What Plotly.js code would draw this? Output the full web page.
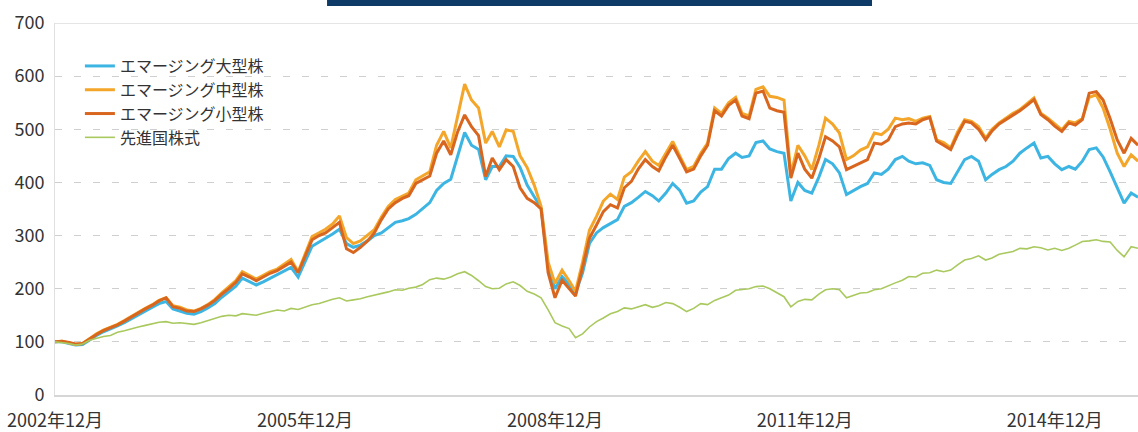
<!DOCTYPE html>
<html><head><meta charset="utf-8">
<script src="https://cdn.plot.ly/plotly-3.0.1.min.js"></script>
<style>html,body{margin:0;padding:0;background:#fff;}#chart{width:1138px;height:432px;}</style>
</head><body><div id="chart"></div>
<script>
// monthly calendar from 2002-12
const months = [];
for (let i = 0; i < 157; i++) {
  const t = 2002 * 12 + 11 + i;
  months.push(Math.floor(t / 12) + '-' + String(t % 12 + 1).padStart(2, '0') + '-01');
}
const seriesNames = ['エマージング大型株', 'エマージング中型株', 'エマージング小型株', '先進国株式'];
const tickDates = ['2002-12-01', '2005-12-01', '2008-12-01', '2011-12-01', '2014-12-01'];
const tickLabels = ['2002年12月', '2005年12月', '2008年12月', '2011年12月', '2014年12月'];
const yTicks = [0, 100, 200, 300, 400, 500, 600, 700];

const emLarge = [100,100,97,94,95,104,112,119,124,130,
136,143,150,158,165,172,176,162,158,154,
152,157,164,172,184,194,205,220,213,207,
213,220,226,234,240,222,252,280,288,295,
303,312,285,278,282,290,300,305,315,325,
328,332,340,350,362,385,398,406,450,494,
470,462,405,430,430,450,449,428,395,372,
352,240,200,223,208,192,230,285,305,315,
322,330,355,362,372,383,375,365,380,398,
385,361,365,382,392,425,425,445,455,447,
450,475,478,463,458,455,365,400,385,380,
410,443,435,418,377,385,392,398,418,415,
425,443,449,440,435,437,432,405,400,398,
420,443,449,440,405,415,424,430,440,455,
465,474,446,449,435,424,430,425,440,462,
465,448,420,390,361,380,372];

const emMid = [100,101,98,95,97,106,115,122,127,133,
140,148,155,163,170,178,183,168,165,160,
158,163,170,180,192,203,215,232,225,218,
225,232,237,246,255,232,265,298,305,312,
322,337,296,285,290,300,311,335,355,368,
375,380,405,412,420,470,496,465,525,585,
555,540,474,496,467,499,496,450,428,395,
355,250,210,235,215,195,250,310,336,365,
378,368,410,420,440,458,440,432,455,477,
450,424,430,455,474,540,530,550,560,530,
525,575,580,562,560,555,415,470,450,424,
470,521,510,493,443,450,461,467,493,490,
500,521,518,520,515,521,524,480,475,465,
495,518,515,505,483,500,512,521,530,537,
548,559,530,521,510,499,515,512,520,560,
565,540,500,455,430,452,440];

const emSmall = [100,101,99,96,97,106,114,121,126,132,
139,147,154,162,169,177,183,166,163,158,
157,162,169,178,190,200,212,228,222,215,
222,229,234,242,250,230,262,292,300,305,
315,325,275,268,278,290,305,330,350,362,
370,375,398,405,412,455,478,452,495,527,
505,488,411,446,424,443,430,390,370,362,
350,230,183,216,200,186,240,295,320,345,
358,352,390,402,425,443,430,422,448,470,
445,420,425,450,470,535,525,545,555,525,
520,568,572,540,535,532,408,455,425,408,
445,486,478,467,424,430,437,443,474,472,
480,505,510,512,510,518,522,478,470,462,
490,515,512,500,480,497,510,518,527,535,
545,556,528,518,506,496,512,508,518,568,
571,555,520,480,455,483,470];

const developed = [100,99,97,94,96,103,107,110,112,118,
121,125,128,131,134,137,138,135,136,134,
133,136,140,145,148,150,149,153,151,150,
154,157,160,158,163,161,166,170,172,176,
180,183,177,179,181,185,188,190,194,198,
197,201,203,208,217,220,218,222,228,232,
225,215,204,200,201,209,213,206,195,190,
183,160,136,130,125,108,115,128,138,145,
153,157,164,162,166,170,165,168,174,172,
165,157,163,172,170,178,183,188,197,198,
200,204,205,200,192,185,166,176,180,179,
190,198,200,198,183,188,192,193,198,200,
206,211,216,223,222,229,230,235,232,235,
245,254,257,262,254,258,265,267,270,276,
275,279,277,273,276,272,276,282,289,290,
292,289,288,272,260,279,276];

const colors = ['#3db5e3', '#f3a62a', '#d9661e', '#a9c95e'];
const widths = [3, 3, 3, 1.6];
const values = [emLarge, emMid, emSmall, developed];

const traces = values.map((v, i) => ({
  x: months, y: v, type: 'scatter', mode: 'lines', name: seriesNames[i],
  line: {color: colors[i], width: widths[i]}, hoverinfo: 'skip'
}));

const font = "'Noto Sans CJK JP', 'Noto Sans', sans-serif";
const layout = {
  width: 1138, height: 432,
  margin: {l: 55, r: 0, t: 23, b: 37},
  paper_bgcolor: '#fff', plot_bgcolor: '#fff',
  font: {family: font, color: '#333'},
  showlegend: true,
  legend: {x: 0.023, y: 0.93, xanchor: 'left', yanchor: 'top', bgcolor: 'rgba(0,0,0,0)',
           font: {size: 16, color: '#333', family: font}, tracegroupgap: 0},
  xaxis: {type: 'date', range: ['2002-12-01', '2015-12-01'], tickvals: tickDates, ticktext: tickLabels,
          showgrid: false, zeroline: false, showline: true, linecolor: '#d6d6d6', linewidth: 2,
          ticks: '', ticklabelstandoff: 8, tickfont: {size: 18, color: '#333', family: font}, fixedrange: true},
  yaxis: {range: [0, 700], tickvals: yTicks, showgrid: true, gridcolor: '#cfcfcf', griddash: '7px,12px',
          gridwidth: 1, zeroline: false, showline: true, linecolor: '#e0e0e0', linewidth: 1,
          ticks: '', ticklabelstandoff: 6, tickfont: {size: 18, color: '#333', family: font}, fixedrange: true},
  shapes: [
    {type: 'line', xref: 'paper', yref: 'y', x0: 0, x1: 1, y0: 700, y1: 700,
     line: {color: '#dcdcdc', width: 1.5}},
    {type: 'rect', xref: 'paper', yref: 'paper', x0: 0.2512, x1: 0.7544, y0: 1.0457, y1: 1.08,
     fillcolor: '#0d3a66', line: {width: 0}}
  ]
};
Plotly.newPlot('chart', traces, layout, {displayModeBar: false, staticPlot: true});
</script></body></html>
